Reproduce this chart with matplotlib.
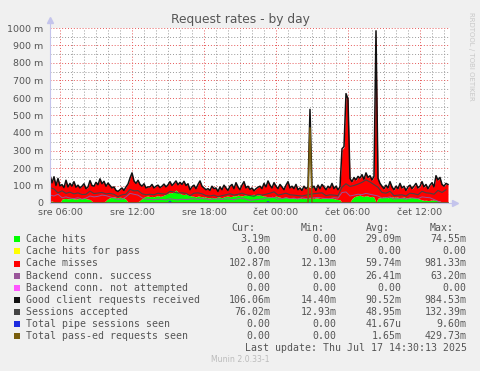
import numpy as np
import matplotlib
matplotlib.use("Agg")
import matplotlib.pyplot as plt
from matplotlib.patches import Rectangle

# 10-minute samples (hours since Wed 00:00), 200 points
t10 = 5 + 10 / 60 + np.arange(200) / 6
# 20-minute samples for the thinner lines
t20 = 5 + 10 / 60 + np.arange(100) / 3

cache_hits = [
    8, 12, 5, 0, 0, 2, 22, 25, 26, 24,
    25, 26, 24, 22, 25, 26, 24, 27, 25, 22,
    20, 10, 3, 0, 0, 2, 0, 5, 15, 25,
    30, 33, 35, 32, 30, 34, 30, 28, 20, 5,
    0, 0, 0, 3, 8, 15, 25, 35, 38, 40,
    36, 38, 35, 40, 42, 38, 40, 45, 50, 55,
    60, 58, 65, 74, 62, 55, 50, 48, 52, 45,
    42, 40, 38, 35, 40, 38, 36, 35, 33, 30,
    30, 32, 28, 30, 35, 33, 30, 35, 38, 40,
    36, 38, 42, 40, 45, 42, 40, 44, 46, 42,
    45, 48, 50, 46, 44, 48, 42, 40, 38, 36,
    35, 38, 36, 40, 35, 33, 30, 32, 34, 30,
    28, 30, 27, 25, 28, 30, 26, 28, 25, 27,
    30, 28, 26, 30, 28, 25, 27, 30, 28, 26,
    30, 28, 25, 22, 20, 18, 0, 0, 0, 0,
    5, 25, 35, 40, 42, 45, 40, 38, 42, 40,
    35, 38, 33, 3, 28, 30, 32, 35, 33, 30,
    34, 36, 32, 35, 33, 30, 32, 34, 30, 28,
    30, 32, 30, 28, 25, 22, 18, 15, 16, 14,
    15, 18, 16, 15, 14, 10, 3, 0, 0, 3,
]
cache_hitpass = [0.0] * 200
cache_misses = [
    152, 103, 145, 100, 140, 96, 83, 63, 104, 68,
    87, 70, 98, 68, 77, 60, 72, 83, 57, 70,
    108, 90, 93, 118, 104, 136, 110, 119, 81, 89,
    70, 53, 57, 40, 36, 42, 56, 44, 72, 103,
    142, 172, 126, 109, 122, 91, 71, 75, 48, 52,
    56, 68, 51, 56, 60, 50, 56, 63, 42, 49,
    62, 42, 47, 52, 42, 63, 56, 76, 48, 65,
    34, 52, 64, 47, 66, 88, 60, 51, 43, 52,
    42, 64, 54, 56, 31, 59, 46, 67, 48, 32,
    60, 68, 40, 76, 47, 34, 62, 78, 40, 54,
    33, 38, 20, 36, 46, 48, 40, 72, 54, 90,
    67, 48, 80, 56, 47, 73, 62, 44, 68, 92,
    58, 66, 55, 81, 48, 56, 46, 68, 57, 65,
    60, 58, 70, 42, 74, 57, 79, 62, 48, 70,
    56, 84, 57, 74, 56, 74, 305, 318, 620, 590,
    132, 95, 109, 90, 108, 95, 120, 96, 128, 104,
    119, 92, 117, 979, 112, 80, 62, 45, 67, 54,
    86, 54, 42, 59, 47, 80, 52, 60, 40, 62,
    70, 48, 64, 82, 59, 72, 102, 75, 88, 66,
    85, 96, 74, 139, 116, 134, 101, 94, 110, 101,
]
client_requests = [
    160, 115, 150, 100, 140, 98, 105, 88, 130, 92,
    112, 96, 122, 90, 102, 86, 96, 110, 82, 92,
    128, 100, 96, 118, 104, 138, 110, 124, 96, 114,
    100, 86, 92, 72, 66, 76, 86, 72, 92, 108,
    142, 172, 126, 112, 130, 106, 96, 110, 86, 92,
    92, 106, 86, 96, 102, 88, 96, 108, 92, 104,
    122, 100, 112, 126, 104, 118, 106, 124, 100, 110,
    76, 92, 102, 82, 106, 126, 96, 86, 76, 82,
    72, 96, 82, 86, 66, 92, 76, 102, 86, 72,
    96, 106, 82, 116, 92, 76, 102, 122, 86, 96,
    78, 86, 70, 82, 90, 96, 82, 112, 92, 126,
    102, 86, 116, 96, 82, 106, 92, 76, 102, 122,
    86, 96, 82, 106, 76, 86, 72, 96, 82, 92,
    535, 86, 96, 72, 102, 82, 106, 92, 76, 96,
    86, 112, 82, 96, 76, 92, 310, 322, 625, 595,
    140, 122, 146, 132, 152, 142, 162, 136, 172, 146,
    156, 132, 152, 984, 142, 112, 96, 82, 102, 86,
    122, 92, 76, 96, 82, 112, 86, 96, 72, 92,
    102, 82, 96, 112, 86, 96, 122, 92, 106, 82,
    102, 116, 92, 156, 132, 146, 106, 96, 112, 106,
]
sessions = [
    88, 80, 58, 70, 55, 62, 52, 58, 48, 50,
    68, 54, 57, 60, 52, 55, 50, 36, 47, 50,
    78, 69, 71, 53, 47, 50, 47, 56, 53, 50,
    67, 62, 57, 58, 55, 42, 56, 58, 53, 42,
    40, 45, 36, 42, 47, 53, 45, 50, 56, 47,
    43, 38, 50, 45, 50, 56, 64, 45, 50, 56,
    47, 45, 42, 40, 45, 50, 53, 56, 58, 42,
    47, 45, 42, 90, 110, 95, 100, 108, 118, 132,
    120, 105, 90, 60, 56, 67, 42, 45, 47, 40,
    56, 53, 47, 67, 58, 56, 50, 72, 60, 76,
]
backend_success = [
    45, 40, 50, 30, 35, 28, 25, 30, 22, 28,
    40, 35, 38, 45, 42, 35, 28, 20, 22, 35,
    55, 50, 45, 30, 22, 20, 18, 22, 20, 18,
    25, 20, 18, 22, 20, 22, 25, 20, 28, 22,
    18, 25, 22, 20, 25, 22, 18, 25, 28, 20,
    15, 18, 20, 22, 28, 30, 32, 22, 25, 30,
    25, 28, 22, 30, 25, 28, 30, 32, 28, 25,
    25, 30, 28, 60, 63, 40, 45, 50, 48, 55,
    50, 45, 40, 28, 30, 35, 22, 25, 28, 20,
    30, 28, 25, 35, 32, 30, 20, 10, 2, 0,
]
backend_not_attempted = [0.0] * 100
pipe_sessions = np.zeros(200)
pipe_sessions[[60, 109]] = [9.6, 8.0]
passed = np.zeros(200)
passed[130] = 429.7

names = ['Cache hits', 'Cache hits for pass', 'Cache misses', 'Backend conn. success',
         'Backend conn. not attempted', 'Good client requests received',
         'Sessions accepted', 'Total pipe sessions seen', 'Total pass-ed requests seen']
colors = ['#00ff00', '#ffff00', '#ff0000', '#995599', '#ff55ff',
          '#111111', '#444444', '#1d2bdf', '#785d0d']
cur = ['3.19m', '0.00', '102.87m', '0.00', '0.00', '106.06m', '76.02m', '0.00', '0.00']
mins = ['0.00', '0.00', '12.13m', '0.00', '0.00', '14.40m', '12.93m', '0.00', '0.00']
avgs = ['29.09m', '0.00', '59.74m', '26.41m', '0.00', '90.52m', '48.95m', '41.67u', '1.65m']
maxs = ['74.55m', '0.00', '981.33m', '63.20m', '0.00', '984.53m', '132.39m', '9.60m', '429.73m']
xtick_pos = [6, 12, 18, 24, 30, 36]
xtick_labels = ['sre 06:00', 'sre 12:00', 'sre 18:00', 'čet 00:00', 'čet 06:00', 'čet 12:00']

W, H = 481, 371
txt = '#555555'
axis_col = '#c4c4ec'

fig = plt.figure(figsize=(W / 100, H / 100), dpi=100, facecolor='#f0f0f0')
ax = fig.add_axes([50 / W, 1 - 203 / H, 400 / W, 175 / H])
ax.set_facecolor('white')

# stacked areas
h = np.array(cache_hits, float)
hp = np.array(cache_hitpass, float)
m = np.array(cache_misses, float)
ax.fill_between(t10, 0, h, color=colors[0], lw=0, zorder=2)
ax.fill_between(t10, h, h + hp, color=colors[1], lw=0, zorder=2)
ax.fill_between(t10, h + hp, h + hp + m, color=colors[2], lw=0, zorder=2)

ax.plot(t20, backend_success, color=colors[3], lw=0.7, zorder=3)
ax.plot(t20, backend_not_attempted, color=colors[4], lw=0.7, zorder=3)
ax.plot(t10, client_requests, color=colors[5], lw=1.1, zorder=3)
ax.plot(t20, sessions, color=colors[6], lw=0.8, zorder=3)
ax.plot(t10, pipe_sessions, color=colors[7], lw=0.8, zorder=3)
ax.plot(t10, passed, color=colors[8], lw=1.1, zorder=3)

ax.set_xlim(5 + 10 / 60, 38.5)
ax.set_ylim(0, 1000)

# grid
ax.set_yticks(np.arange(0, 1001, 100))
ax.set_yticks(np.arange(50, 1000, 100), minor=True)
ax.set_xticks(xtick_pos)
ax.set_xticks(np.arange(6, 39, 1), minor=True)
ax.grid(which='minor', color=(0.6, 0.6, 0.6, 0.35), lw=0.7, ls=(0, (1, 2)), zorder=1)
ax.grid(which='major', color=(0.9, 0.35, 0.35, 0.45), lw=0.7, ls=(0, (1, 2)), zorder=1)

ax.set_yticklabels(['0'] + ['%d m' % v for v in range(100, 1001, 100)])
ax.set_xticklabels(xtick_labels)
ax.tick_params(which='both', length=0)
ax.tick_params(axis='y', pad=4.6, labelsize=6.8, labelcolor=txt)
ax.tick_params(axis='x', pad=3.5, labelsize=6.8, labelcolor=txt)
for s in ax.spines.values():
    s.set_visible(False)

# axes with arrows
ax.plot([0, 0], [0, 1.045], transform=ax.transAxes, color=axis_col, lw=0.8, clip_on=False, zorder=5)
ax.plot([0, 1.012], [0, 0], transform=ax.transAxes, color=axis_col, lw=0.8, clip_on=False, zorder=5)
ax.plot([0], [1.045], transform=ax.transAxes, marker='^', ms=4, color=axis_col, clip_on=False, zorder=5)
ax.plot([1.012], [0], transform=ax.transAxes, marker='>', ms=4, color=axis_col, clip_on=False, zorder=5)

fig.text(240 / W, 1 - 20 / H, 'Request rates - by day', ha='center', va='center',
         fontsize=8.8, color=txt)
fig.text(471 / W, 1 - 56 / H, 'RRDTOOL / TOBI OETIKER', rotation=270, ha='center',
         va='center', fontsize=5, color='#c8c8c8')

mono = 'DejaVu Sans Mono'
fs = 7.1
for xr, lab in zip([255, 325, 390, 454], ['Cur:', 'Min:', 'Avg:', 'Max:']):
    fig.text(xr / W, 1 - 228.3 / H, lab, ha='right', va='center', family=mono, fontsize=fs, color=txt)
for i, name in enumerate(names):
    y = 1 - (239.4 + 12.05 * i) / H
    fig.add_artist(Rectangle((14 / W, y - 3 / H), 6 / W, 6 / H, transform=fig.transFigure,
                             color=colors[i], lw=0))
    fig.text(26.5 / W, y, name, ha='left', va='center', family=mono, fontsize=fs, color=txt)
    for xr, col in zip([270.7, 336.7, 401.7, 466.7], [cur, mins, avgs, maxs]):
        fig.text(xr / W, y, col[i], ha='right', va='center', family=mono, fontsize=fs, color=txt)

fig.text(466.7 / W, 1 - 347.7 / H, 'Last update: Thu Jul 17 14:30:13 2025', ha='right',
         va='center', family=mono, fontsize=fs, color=txt)
fig.text(240 / W, 1 - 360 / H, 'Munin 2.0.33-1', ha='center', va='center',
         fontsize=5.6, color='#bbbbbb')

fig.savefig('out.png', dpi=100, facecolor=fig.get_facecolor())
